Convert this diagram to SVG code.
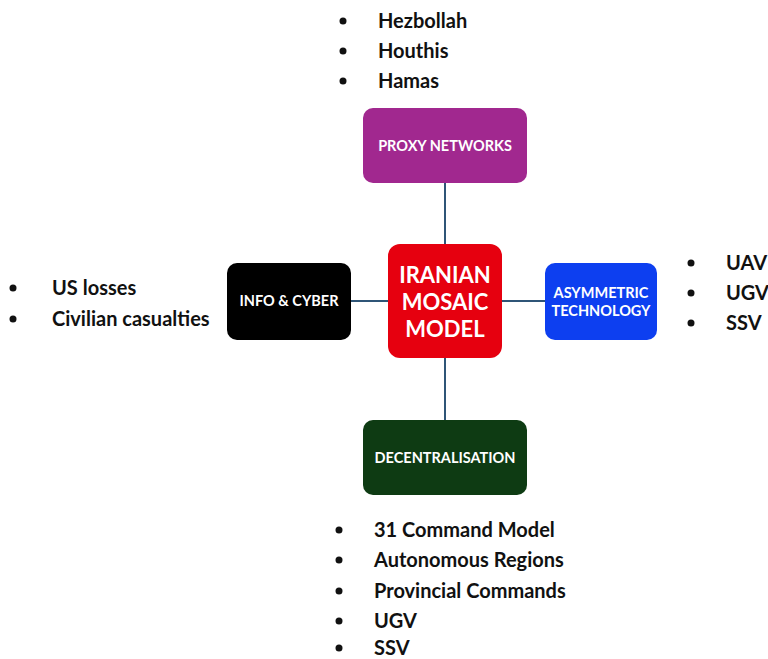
<svg xmlns="http://www.w3.org/2000/svg" width="768" height="659" viewBox="0 0 768 659">
<style>
.bt{font-family:Lato,"Open Sans",sans-serif;font-weight:bold;font-size:20px;fill:#111}
.nt{font-family:Lato,"Open Sans",sans-serif;font-weight:bold;fill:#fff;text-anchor:middle}
.c{stroke:#2f5577;stroke-width:2;fill:none}
</style>
<rect width="768" height="659" fill="#fff"/>
<g id="connectors">
<line class="c" x1="445" y1="183" x2="445" y2="244"/>
<line class="c" x1="445" y1="358" x2="445" y2="420"/>
<line class="c" x1="351" y1="301" x2="388" y2="301"/>
<line class="c" x1="502" y1="301" x2="545" y2="301"/>
</g>
<g id="proxy">
<rect x="363" y="108" width="164" height="75" rx="10" fill="#a1288f"/>
<text class="nt" x="445" y="151" font-size="14.5">PROXY NETWORKS</text>
</g>
<g id="center">
<rect x="388" y="244" width="114" height="114" rx="12" fill="#e6000f"/>
<text class="nt" x="445" y="283" font-size="22">IRANIAN</text>
<text class="nt" x="445" y="310" font-size="22">MOSAIC</text>
<text class="nt" x="445" y="337" font-size="22">MODEL</text>
</g>
<g id="info">
<rect x="227" y="263" width="124" height="77" rx="10" fill="#000"/>
<text class="nt" x="289" y="306" font-size="14.5">INFO &amp; CYBER</text>
</g>
<g id="asym">
<rect x="545" y="263" width="112" height="77" rx="10" fill="#0d3ff0"/>
<text class="nt" x="601" y="298" font-size="14.5">ASYMMETRIC</text>
<text class="nt" x="601" y="316" font-size="14.5">TECHNOLOGY</text>
</g>
<g id="decentral">
<rect x="363" y="420" width="164" height="75" rx="10" fill="#0e3b13"/>
<text class="nt" x="445" y="463" font-size="14.5">DECENTRALISATION</text>
</g>
<g id="list-top">
<circle cx="343" cy="21" r="3.5" fill="#111"/><text class="bt" x="378" y="28">Hezbollah</text>
<circle cx="343" cy="51" r="3.5" fill="#111"/><text class="bt" x="378" y="58">Houthis</text>
<circle cx="343" cy="81" r="3.5" fill="#111"/><text class="bt" x="378" y="88">Hamas</text>
</g>
<g id="list-left">
<circle cx="13" cy="288" r="3.5" fill="#111"/><text class="bt" x="52" y="295">US losses</text>
<circle cx="13" cy="319" r="3.5" fill="#111"/><text class="bt" x="52" y="326">Civilian casualties</text>
</g>
<g id="list-right">
<circle cx="691" cy="263" r="3.5" fill="#111"/><text class="bt" x="726" y="270" font-size="19">UAV</text>
<circle cx="691" cy="293" r="3.5" fill="#111"/><text class="bt" x="726" y="300" font-size="19">UGV</text>
<circle cx="691" cy="323" r="3.5" fill="#111"/><text class="bt" x="726" y="330" font-size="19">SSV</text>
</g>
<g id="list-bottom">
<circle cx="339" cy="530" r="3.5" fill="#111"/><text class="bt" x="374" y="537">31 Command Model</text>
<circle cx="339" cy="560" r="3.5" fill="#111"/><text class="bt" x="374" y="567">Autonomous Regions</text>
<circle cx="339" cy="591" r="3.5" fill="#111"/><text class="bt" x="374" y="598">Provincial Commands</text>
<circle cx="339" cy="621" r="3.5" fill="#111"/><text class="bt" x="374" y="628">UGV</text>
<circle cx="339" cy="648" r="3.5" fill="#111"/><text class="bt" x="374" y="655">SSV</text>
</g>
</svg>
